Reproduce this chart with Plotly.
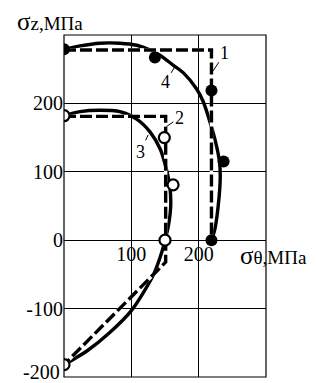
import plotly.graph_objects as go

# ---- data ----
# series 1/4 (filled markers)
dash1_theta = [0, 219, 219]
dash1_z = [278, 278, 0]
curve4_theta = [0, 24, 53, 83, 108, 128, 143, 162, 177, 197, 207, 217, 224, 231, 232, 229, 224, 219]
curve4_z = [279, 284, 288, 288, 285, 278, 270, 256, 245, 221, 202, 172, 148, 114, 90, 50, 16, 0]
pts1_theta = [0, 135, 219, 237, 219]
pts1_z = [279, 267, 219, 115, 0]

# series 2/3 (open markers)
dash2_theta = [0, 151, 151, 0]
dash2_z = [181, 181, -32, -182]
curve3_theta = [0, 24, 53, 83, 108, 128, 143, 152, 157, 158.5, 155, 150, 146, 133, 100, 68, 34, 0]
curve3_z = [182, 188, 190, 188, 177, 158, 133, 104, 80, 50, 21, 0, -15, -50, -103, -135, -162, -182]
pts2_theta = [0, 149, 162, 150, 0]
pts2_z = [182, 150, 81, 0, -182]

x_ticks = [100, 200]
y_ticks = [-200, -100, 0, 100, 200]
y_ticktext = ["-200", "-100", "0", "100", "200"]

FONT = "Liberation Serif"

fig = go.Figure()

def solid(x, y):
    fig.add_trace(go.Scatter(x=x, y=y, mode="lines",
                             line=dict(color="black", width=3.4, shape="spline", smoothing=0.8),
                             hoverinfo="skip", showlegend=False))

def dashed(x, y):
    fig.add_trace(go.Scatter(x=x, y=y, mode="lines",
                             line=dict(color="white", width=3.4),
                             hoverinfo="skip", showlegend=False))
    fig.add_trace(go.Scatter(x=x, y=y, mode="lines",
                             line=dict(color="black", width=3.4, dash="12px,4px"),
                             hoverinfo="skip", showlegend=False))

solid(curve4_theta, curve4_z)
solid(curve3_theta, curve3_z)
dashed(dash1_theta, dash1_z)
dashed(dash2_theta, dash2_z)

fig.add_trace(go.Scatter(x=pts1_theta, y=pts1_z, mode="markers",
                         marker=dict(symbol="circle", size=12, color="black"),
                         showlegend=False))
fig.add_trace(go.Scatter(x=pts2_theta, y=pts2_z, mode="markers",
                         marker=dict(symbol="circle", size=11, color="white",
                                     line=dict(color="black", width=2.2)),
                         showlegend=False))

# curve labels with leader lines
labels = [
    ("1", 221, 247, 12, -18),
    ("4", 165, 254, -10, 16),
    ("2", 152, 166, 13, -9),
    ("3", 125, 154, -8, 17),
]
for txt, x, y, ax, ay in labels:
    fig.add_annotation(x=x, y=y, text=txt, showarrow=True, arrowhead=0,
                       arrowwidth=1, arrowcolor="black", ax=ax, ay=ay,
                       standoff=0, startstandoff=0,
                       font=dict(family=FONT, size=18, color="black"))

# bottom y tick label sits slightly above its grid line (at the frame edge)
axis_ticktext = [""] + y_ticktext[1:]
fig.add_annotation(xref="paper", x=0, xshift=-2, xanchor="right",
                   y=y_ticks[0], yshift=5, yanchor="middle", showarrow=False,
                   text=y_ticktext[0], font=dict(family=FONT, size=20, color="black"))

# axis titles
fig.add_annotation(xref="paper", yref="paper", x=-0.243, y=1.0, yshift=14,
                   xanchor="left", yanchor="middle", showarrow=False,
                   text="<span style='font-size:25px'>σ</span>z,МПа",
                   font=dict(family=FONT, size=19, color="black"))
fig.add_annotation(xref="paper", y=0, x=0.861, yshift=-15,
                   xanchor="left", yanchor="middle", showarrow=False,
                   text="<span style='font-size:25px'>σ</span>θ,МПа",
                   font=dict(family=FONT, size=19, color="black"))

# plot frame
fig.add_shape(type="rect", xref="paper", yref="paper", x0=0, x1=1, y0=0, y1=1,
              line=dict(color="black", width=1.2), layer="above")

# page has an 8px body margin, so the figure is sized/offset to compensate
fig.update_layout(
    width=308, height=375,
    margin=dict(l=56, r=50, t=27, b=6),
    paper_bgcolor="white", plot_bgcolor="white",
    font=dict(family=FONT, size=20, color="black"),
    xaxis=dict(range=[0, 300], tickvals=x_ticks, showgrid=True, gridcolor="black",
               gridwidth=1.2, zeroline=False, showline=False, automargin=False,
               anchor="free", position=0.4, ticks="",
               tickfont=dict(family=FONT, size=20)),
    yaxis=dict(range=[-200, 300], tickvals=y_ticks, ticktext=axis_ticktext,
               showgrid=True, gridcolor="black", automargin=False,
               gridwidth=1.2, zeroline=False, showline=False,
               ticks="", tickfont=dict(family=FONT, size=20)),
)

fig.write_html("out.html")
